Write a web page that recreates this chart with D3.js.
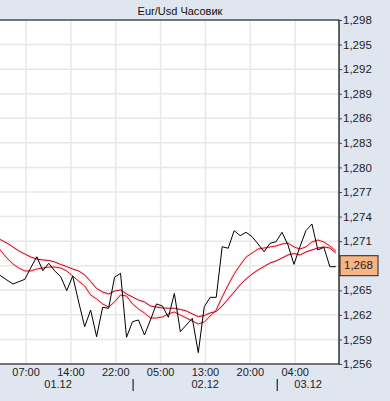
<!DOCTYPE html>
<html>
<head>
<meta charset="utf-8">
<script src="https://cdn.jsdelivr.net/npm/d3@7"></script>
<style>
  html, body { margin: 0; padding: 0; background: #dfe6ef; }
  svg { display: block; }
</style>
</head>
<body>
<div id="chart"></div>
<script>
// hourly closes, hour 0 = 01.12 00:00
const price = [
  1.2690, 1.2684, 1.2675, 1.26674, 1.26626, 1.26577, 1.26605, 1.26634, 1.26776, 1.26910,
  1.26739, 1.26830, 1.26736, 1.26666, 1.26495, 1.26674, 1.26357, 1.26056, 1.26259, 1.25933,
  1.26292, 1.26280, 1.26659, 1.26707, 1.25926, 1.26117, 1.26137, 1.25954, 1.26137, 1.26333,
  1.26308, 1.26170, 1.26461, 1.25995, 1.26076, 1.26158, 1.25738, 1.26300, 1.26414, 1.26414,
  1.27032, 1.27013, 1.27228, 1.27167, 1.27208, 1.27154, 1.27065, 1.26971, 1.27074, 1.27093,
  1.27208, 1.27053, 1.26817, 1.27032, 1.27228, 1.27309, 1.26992, 1.27025, 1.26788, 1.26788
];
// fast moving average
const maFast = [
  1.27212, 1.27138, 1.27065, 1.26980, 1.26894, 1.26821, 1.26772, 1.26736, 1.26736, 1.26760,
  1.26772, 1.26784, 1.26784, 1.26772, 1.26736, 1.26674, 1.26613, 1.26552, 1.26443, 1.26394,
  1.26333, 1.26296, 1.26357, 1.26443, 1.26430, 1.26333, 1.26272, 1.26223, 1.26162, 1.26162,
  1.26174, 1.26211, 1.26235, 1.26198, 1.26162, 1.26125, 1.26088, 1.26113, 1.26186, 1.26259,
  1.26418, 1.26565, 1.26699, 1.26809, 1.26906, 1.26955, 1.27004, 1.27016, 1.27029, 1.27041,
  1.27065, 1.27077, 1.27029, 1.27004, 1.27029, 1.27090, 1.27114, 1.27090, 1.27041, 1.26980
];
// slow moving average
const maSlow = [
  1.27261, 1.27212, 1.27163, 1.27114, 1.27077, 1.27029, 1.26980, 1.26943, 1.26906, 1.26882,
  1.26870, 1.26864, 1.26845, 1.26815, 1.26790, 1.26760, 1.26736, 1.26687, 1.26607, 1.26522,
  1.26479, 1.26455, 1.26491, 1.26504, 1.26455, 1.26418, 1.26381, 1.26357, 1.26308, 1.26296,
  1.26284, 1.26280, 1.26280, 1.26266, 1.26247, 1.26211, 1.26178, 1.26192, 1.26223, 1.26241,
  1.26308, 1.26394, 1.26479, 1.26565, 1.26638, 1.26699, 1.26748, 1.26790, 1.26833, 1.26858,
  1.26894, 1.26931, 1.26949, 1.26931, 1.26968, 1.26992, 1.27016, 1.27029, 1.27016, 1.26955
];

const yTicks = [1.298, 1.295, 1.292, 1.289, 1.286, 1.283, 1.280, 1.277,
                1.274, 1.271, 1.268, 1.265, 1.262, 1.259, 1.256];
// time axis ticks in hours since 01.12 00:00
const xTicks = [7.2, 14.7, 22.2, 29.7, 37.2, 44.7, 52.2];
const daySplits = [25.1, 49.2];
const dayLabels = ['01.12', '02.12', '03.12'];
const lastPrice = 1.268;

const W = 390, H = 401;
const plot = { left: 0, top: 20, right: 339, bottom: 364 };

const svg = d3.select('#chart').append('svg')
  .attr('width', W).attr('height', H)
  .style('font-family', '"Liberation Sans", Arial, sans-serif');

svg.append('rect').attr('width', W).attr('height', H).attr('fill', '#dfe6ef');

// title
svg.append('text')
  .attr('x', 180).attr('y', 12)
  .attr('text-anchor', 'middle').attr('dominant-baseline', 'middle')
  .attr('font-size', '11px').attr('fill', '#111')
  .text('Eur/Usd Часовик');

const x = d3.scaleLinear().domain([2.843, 59.53]).range([plot.left, plot.right]);
const y = d3.scaleLinear().domain([1.256, 1.298]).range([plot.bottom, plot.top]);

// plot background
svg.append('rect')
  .attr('x', plot.left).attr('y', plot.top)
  .attr('width', plot.right - plot.left).attr('height', plot.bottom - plot.top)
  .attr('fill', '#fff');

svg.append('defs').append('clipPath').attr('id', 'clip')
  .append('rect')
  .attr('x', plot.left).attr('y', plot.top)
  .attr('width', plot.right - plot.left).attr('height', plot.bottom - plot.top);

// grid
const grid = svg.append('g').attr('stroke', '#e8e8e8').attr('stroke-width', 1.5);
grid.selectAll('.hg').data(yTicks).enter().append('line')
  .attr('x1', plot.left).attr('x2', plot.right)
  .attr('y1', d => y(d)).attr('y2', d => y(d));
grid.selectAll('.vg').data(xTicks).enter().append('line')
  .attr('x1', d => x(d)).attr('x2', d => x(d))
  .attr('y1', plot.top).attr('y2', plot.bottom);

// series
const lineGen = d3.line().x((d, i) => x(i)).y(d => y(d));
const g = svg.append('g').attr('clip-path', 'url(#clip)');

[maSlow, maFast].forEach(s => {
  g.append('path').datum(s).attr('d', lineGen)
    .attr('fill', 'none').attr('stroke', '#ffd2d2').attr('stroke-width', 3)
    .attr('stroke-opacity', 0.6);
});
g.append('path').datum(maSlow).attr('d', lineGen)
  .attr('fill', 'none').attr('stroke', '#b8002c').attr('stroke-width', 1);
g.append('path').datum(maFast).attr('d', lineGen)
  .attr('fill', 'none').attr('stroke', '#d41024').attr('stroke-width', 1);
g.append('path').datum(price).attr('d', lineGen)
  .attr('fill', 'none').attr('stroke', '#000').attr('stroke-width', 1);

// border
svg.append('path')
  .attr('d', `M${plot.left},${plot.top}H${plot.right}V${plot.bottom}H${plot.left}`)
  .attr('fill', 'none').attr('stroke', '#000').attr('stroke-width', 1.2);

// y axis on the right
const yAxis = d3.axisRight(y).tickValues(yTicks).tickSize(3)
  .tickFormat(d => d3.format('.3f')(d).replace('.', ','));
const ya = svg.append('g').attr('transform', `translate(${plot.right},0)`).call(yAxis);
ya.select('.domain').remove();
ya.selectAll('text').attr('font-size', '11.5px').attr('fill', '#222')
  .attr('font-family', '"Liberation Sans", Arial, sans-serif').attr('x', 4);
ya.selectAll('line').attr('stroke', '#444');

// last price box
const lp = svg.append('g').attr('transform', `translate(${plot.right},${y(lastPrice)})`);
lp.append('rect').attr('x', 1).attr('y', -10).attr('width', 38).attr('height', 20)
  .attr('fill', '#f8b584').attr('stroke', '#222').attr('stroke-width', 1);
lp.append('text').attr('x', 5).attr('dominant-baseline', 'middle')
  .attr('font-size', '11.5px').attr('fill', '#222')
  .text(d3.format('.3f')(lastPrice).replace('.', ','));

// x axis labels
const xa = svg.append('g');
xa.selectAll('.xl').data(xTicks).enter().append('text')
  .attr('x', d => x(d)).attr('y', 373)
  .attr('text-anchor', 'middle').attr('dominant-baseline', 'middle')
  .attr('font-size', '11px').attr('fill', '#222')
  .text(d => d3.format('02d')(Math.floor(d) % 24) + ':00');

xa.selectAll('.sep').data(daySplits).enter().append('line')
  .attr('x1', d => x(d)).attr('x2', d => x(d))
  .attr('y1', 379).attr('y2', 391)
  .attr('stroke', '#000').attr('stroke-width', 1);

const bounds = [0].concat(daySplits, [x.domain()[1]]);
xa.selectAll('.dl').data(dayLabels).enter().append('text')
  .attr('x', (d, i) => x((bounds[i] + bounds[i + 1]) / 2)).attr('y', 385)
  .attr('text-anchor', 'middle').attr('dominant-baseline', 'middle')
  .attr('font-size', '11px').attr('fill', '#222')
  .text(d => d);
</script>
</body>
</html>
